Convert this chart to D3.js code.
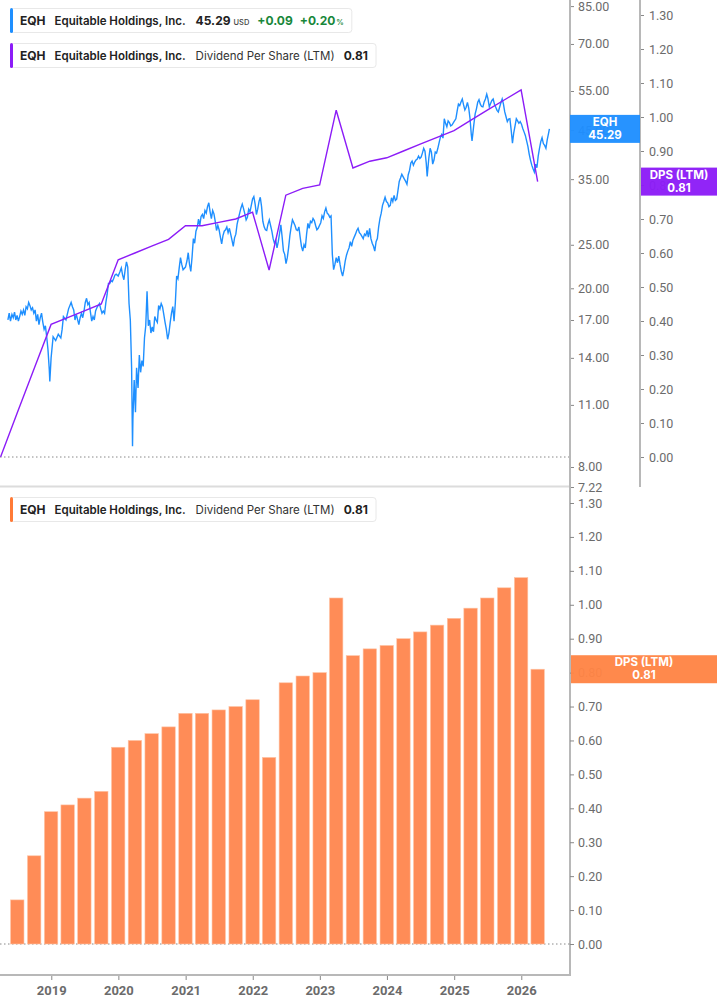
<!DOCTYPE html>
<html>
<head>
<meta charset="utf-8">
<script src="https://cdn.jsdelivr.net/npm/d3@7"></script>
<style>
  body { margin: 0; background: #fff; }
  svg { display: block; font-family: Inter, "Noto Sans", sans-serif; }
</style>
</head>
<body>
<div id="chart"></div>
<script>
// price series (close)
const priceSeries = [
  ["2018-05-10",17.0],["2018-05-17",17.6],["2018-05-24",16.9],["2018-06-01",17.5],["2018-06-08",17.2],["2018-06-15",17.7],
  ["2018-06-22",17.0],["2018-06-29",17.4],["2018-07-06",16.9],["2018-07-13",17.3],["2018-07-20",17.8],["2018-07-27",17.5],
  ["2018-08-03",17.9],["2018-08-10",17.4],["2018-08-17",18.2],["2018-08-24",18.0],["2018-08-31",18.6],["2018-09-07",18.3],
  ["2018-09-14",17.9],["2018-09-21",18.1],["2018-09-28",17.6],["2018-10-05",17.9],["2018-10-12",16.9],["2018-10-19",17.5],
  ["2018-10-26",16.6],["2018-11-02",17.2],["2018-11-09",17.6],["2018-11-16",16.8],["2018-11-23",16.2],["2018-11-30",16.5],
  ["2018-12-07",15.6],["2018-12-14",14.6],["2018-12-21",13.2],["2018-12-24",12.4],["2018-12-31",14.0],
  ["2019-01-11",15.6],["2019-01-25",15.3],["2019-02-08",15.8],["2019-02-22",15.5],["2019-03-01",16.2],["2019-03-08",17.3],
  ["2019-03-22",17.0],["2019-04-05",18.0],["2019-04-19",18.6],["2019-04-26",18.2],["2019-05-03",17.9],["2019-05-10",17.0],
  ["2019-05-17",17.5],["2019-05-31",16.6],["2019-06-07",17.2],["2019-06-14",17.6],["2019-06-21",17.2],["2019-06-28",17.8],
  ["2019-07-05",18.6],["2019-07-12",19.0],["2019-07-19",18.4],["2019-07-26",18.6],["2019-08-02",17.7],["2019-08-09",16.9],
  ["2019-08-16",17.3],["2019-08-23",17.0],["2019-08-30",17.8],["2019-09-06",18.1],["2019-09-20",18.5],["2019-09-27",18.0],
  ["2019-10-04",17.6],["2019-10-11",17.8],["2019-10-18",17.6],["2019-10-25",18.6],["2019-11-01",19.4],["2019-11-08",20.5],
  ["2019-11-15",20.5],["2019-11-22",20.8],["2019-11-29",20.7],["2019-12-06",21.0],["2019-12-13",21.4],["2019-12-20",21.5],
  ["2019-12-31",21.3],
  ["2020-01-10",21.8],["2020-01-17",22.2],["2020-01-24",21.4],["2020-01-31",20.9],["2020-02-07",22.0],["2020-02-14",22.9],
  ["2020-02-21",22.3],["2020-02-28",18.5],["2020-03-06",17.0],["2020-03-13",13.3],["2020-03-18",8.9],["2020-03-20",10.2],
  ["2020-03-27",12.5],["2020-04-03",10.6],["2020-04-09",13.3],["2020-04-17",12.0],["2020-04-24",14.2],["2020-05-01",13.0],
  ["2020-05-08",13.8],["2020-05-15",13.4],["2020-05-22",15.5],["2020-05-29",16.5],["2020-06-05",19.7],["2020-06-12",16.5],
  ["2020-06-19",17.0],["2020-06-26",15.9],["2020-07-03",16.4],["2020-07-10",16.0],["2020-07-17",17.3],["2020-07-24",17.0],
  ["2020-07-31",16.8],["2020-08-07",18.3],["2020-08-14",18.0],["2020-08-21",18.5],["2020-08-28",18.2],["2020-09-04",17.5],
  ["2020-09-11",16.8],["2020-09-18",16.2],["2020-09-25",15.4],["2020-10-02",15.9],["2020-10-09",16.8],["2020-10-16",17.6],
  ["2020-10-23",18.2],["2020-10-30",16.9],["2020-11-06",18.6],["2020-11-13",21.3],["2020-11-20",21.0],["2020-11-27",22.2],
  ["2020-12-04",23.4],["2020-12-11",22.6],["2020-12-18",22.0],["2020-12-31",22.3],
  ["2021-01-08",23.0],["2021-01-15",24.0],["2021-01-22",22.6],["2021-01-29",21.8],["2021-02-05",23.5],["2021-02-12",25.8],
  ["2021-02-19",25.2],["2021-02-26",26.8],["2021-03-05",27.3],["2021-03-12",28.5],["2021-03-19",27.6],["2021-03-26",28.9],
  ["2021-04-02",29.2],["2021-04-09",28.6],["2021-04-16",29.8],["2021-04-23",29.4],["2021-04-30",30.4],["2021-05-07",31.0],
  ["2021-05-14",29.6],["2021-05-21",28.6],["2021-05-28",29.8],["2021-06-04",29.3],["2021-06-11",28.2],["2021-06-18",26.9],
  ["2021-06-25",27.6],["2021-07-02",27.0],["2021-07-09",26.0],["2021-07-16",25.1],["2021-07-23",26.2],["2021-07-30",26.8],
  ["2021-08-06",27.0],["2021-08-13",27.4],["2021-08-20",26.6],["2021-08-27",27.2],["2021-09-03",26.4],["2021-09-10",25.6],
  ["2021-09-17",24.8],["2021-09-24",25.9],["2021-10-01",26.4],["2021-10-08",27.8],["2021-10-15",28.6],["2021-10-22",29.4],
  ["2021-10-29",30.2],["2021-11-05",30.8],["2021-11-12",30.1],["2021-11-19",29.3],["2021-11-26",28.4],["2021-12-03",28.8],
  ["2021-12-10",30.0],["2021-12-17",29.6],["2021-12-31",31.6],
  ["2022-01-07",32.0],["2022-01-14",30.8],["2022-01-21",29.2],["2022-01-28",30.0],["2022-02-04",31.2],["2022-02-11",31.9],
  ["2022-02-18",30.4],["2022-02-25",28.2],["2022-03-04",27.4],["2022-03-11",27.0],["2022-03-18",26.9],["2022-03-25",27.8],
  ["2022-04-01",28.4],["2022-04-08",27.6],["2022-04-15",26.8],["2022-04-22",25.8],["2022-04-29",25.2],["2022-05-06",25.6],
  ["2022-05-13",24.6],["2022-05-20",25.4],["2022-05-27",26.5],["2022-06-03",27.7],["2022-06-10",26.0],["2022-06-17",24.2],
  ["2022-06-24",23.8],["2022-07-01",22.7],["2022-07-08",23.4],["2022-07-15",24.6],["2022-07-22",26.2],["2022-07-29",27.4],
  ["2022-08-05",28.4],["2022-08-12",28.0],["2022-08-19",27.6],["2022-08-26",27.0],["2022-09-02",26.9],["2022-09-09",27.4],
  ["2022-09-16",26.0],["2022-09-23",24.8],["2022-09-30",24.2],["2022-10-07",25.0],["2022-10-14",24.6],["2022-10-21",26.4],
  ["2022-10-28",27.9],["2022-11-04",27.2],["2022-11-11",28.2],["2022-11-18",28.0],["2022-11-25",28.6],["2022-12-02",28.3],
  ["2022-12-09",27.6],["2022-12-16",27.0],["2022-12-23",27.2],["2022-12-30",27.6],
  ["2023-01-06",28.0],["2023-01-13",29.0],["2023-01-20",28.6],["2023-01-27",29.6],["2023-02-03",30.2],["2023-02-10",29.4],
  ["2023-02-17",29.2],["2023-02-24",28.8],["2023-03-03",29.0],["2023-03-10",23.8],["2023-03-17",22.0],["2023-03-24",22.6],
  ["2023-03-31",23.4],["2023-04-07",22.8],["2023-04-14",23.6],["2023-04-21",22.6],["2023-04-28",21.8],["2023-05-05",21.3],
  ["2023-05-12",22.0],["2023-05-19",23.0],["2023-05-26",23.7],["2023-06-02",24.2],["2023-06-09",24.6],["2023-06-16",25.4],
  ["2023-06-23",24.8],["2023-06-30",25.6],["2023-07-07",26.0],["2023-07-14",26.4],["2023-07-21",26.9],["2023-07-28",27.2],
  ["2023-08-04",26.6],["2023-08-11",26.4],["2023-08-18",26.1],["2023-08-25",25.8],["2023-09-01",26.4],["2023-09-08",26.2],
  ["2023-09-15",26.9],["2023-09-22",26.0],["2023-09-29",27.2],["2023-10-06",25.8],["2023-10-13",25.2],["2023-10-20",24.8],
  ["2023-10-27",24.2],["2023-11-03",25.4],["2023-11-10",25.8],["2023-11-17",27.4],["2023-11-24",28.6],["2023-12-01",29.4],
  ["2023-12-08",30.6],["2023-12-15",31.2],["2023-12-22",31.9],["2023-12-29",31.2],
  ["2024-01-05",31.0],["2024-01-12",30.4],["2024-01-19",30.6],["2024-01-26",31.8],["2024-02-02",31.2],["2024-02-09",32.2],
  ["2024-02-16",31.4],["2024-02-23",31.6],["2024-03-01",33.0],["2024-03-08",34.6],["2024-03-15",35.2],["2024-03-22",35.9],
  ["2024-03-28",35.5],["2024-04-05",35.0],["2024-04-12",34.6],["2024-04-19",34.1],["2024-04-26",35.8],["2024-05-03",36.6],
  ["2024-05-10",38.0],["2024-05-17",38.4],["2024-05-24",37.6],["2024-05-31",38.2],["2024-06-07",38.6],["2024-06-14",38.8],
  ["2024-06-21",39.4],["2024-06-28",38.9],["2024-07-05",39.2],["2024-07-12",40.0],["2024-07-19",41.0],["2024-07-26",40.4],
  ["2024-08-02",38.0],["2024-08-07",35.5],["2024-08-16",39.0],["2024-08-23",41.0],["2024-08-30",40.2],["2024-09-06",37.8],
  ["2024-09-13",38.6],["2024-09-20",40.2],["2024-09-27",40.0],["2024-10-04",41.0],["2024-10-11",42.2],["2024-10-18",43.4],
  ["2024-10-25",44.0],["2024-11-01",43.2],["2024-11-08",47.7],["2024-11-15",46.6],["2024-11-22",45.8],["2024-11-29",47.2],
  ["2024-12-06",46.8],["2024-12-13",46.0],["2024-12-20",46.2],["2024-12-31",47.0],
  ["2025-01-10",47.7],["2025-01-17",49.6],["2025-01-24",51.4],["2025-01-31",51.0],["2025-02-07",52.0],["2025-02-14",52.8],
  ["2025-02-21",51.2],["2025-02-28",49.9],["2025-03-07",50.6],["2025-03-14",51.9],["2025-03-21",50.4],["2025-03-28",47.8],
  ["2025-04-04",44.0],["2025-04-08",42.6],["2025-04-17",46.0],["2025-04-25",48.9],["2025-05-02",50.2],["2025-05-09",51.9],
  ["2025-05-16",52.6],["2025-05-23",51.4],["2025-05-30",50.8],["2025-06-06",50.7],["2025-06-13",52.0],["2025-06-20",52.8],
  ["2025-06-27",54.1],["2025-07-03",53.0],["2025-07-11",50.7],["2025-07-18",51.6],["2025-07-25",52.4],["2025-08-01",52.8],
  ["2025-08-08",51.4],["2025-08-15",50.6],["2025-08-22",49.8],["2025-08-29",49.4],["2025-09-05",50.6],["2025-09-12",51.8],
  ["2025-09-19",52.8],["2025-09-26",51.4],["2025-10-03",49.4],["2025-10-10",48.2],["2025-10-17",47.0],["2025-10-24",47.6],
  ["2025-10-31",47.7],["2025-11-07",45.0],["2025-11-14",42.1],["2025-11-21",44.4],["2025-11-28",46.0],["2025-12-05",47.7],
  ["2025-12-12",47.2],["2025-12-19",46.6],["2025-12-26",47.0],
  ["2026-01-02",46.4],["2026-01-09",45.4],["2026-01-16",44.6],["2026-01-23",43.8],["2026-01-30",42.6],["2026-02-06",41.4],
  ["2026-02-13",39.8],["2026-02-20",38.6],["2026-02-27",37.6],["2026-03-06",36.9],["2026-03-13",36.3],["2026-03-20",37.8],
  ["2026-03-27",37.1],["2026-04-03",39.4],["2026-04-10",41.0],["2026-04-17",42.4],["2026-04-24",43.3],["2026-05-01",42.0],
  ["2026-05-08",41.6],["2026-05-15",41.0],["2026-05-22",42.8],["2026-05-29",44.2],["2026-06-03",45.29]
];

// dividend per share (LTM), quarter ends
const dpsDates = ["2018-03-31","2018-06-30","2018-09-30","2018-12-31","2019-03-31","2019-06-30","2019-09-30","2019-12-31",
  "2020-03-31","2020-06-30","2020-09-30","2020-12-31","2021-03-31","2021-06-30","2021-09-30","2021-12-31",
  "2022-03-31","2022-06-30","2022-09-30","2022-12-31","2023-03-31","2023-06-30","2023-09-30","2023-12-31",
  "2024-03-31","2024-06-30","2024-09-30","2024-12-31","2025-03-31","2025-06-30","2025-09-30","2025-12-31","2026-03-31"];
const dpsValues = [0, 0.13, 0.26, 0.39, 0.41, 0.43, 0.45, 0.58, 0.60, 0.62, 0.64, 0.68, 0.68, 0.69, 0.70, 0.72,
  0.55, 0.77, 0.79, 0.80, 1.02, 0.85, 0.87, 0.88, 0.90, 0.92, 0.94, 0.96, 0.99, 1.02, 1.05, 1.08, 0.81];

const priceTicks = [7.22, 8, 11, 14, 17, 20, 25, 35, 45, 55, 70, 85];
const dpsTicks = [0, 0.1, 0.2, 0.3, 0.4, 0.5, 0.6, 0.7, 0.8, 0.9, 1.0, 1.1, 1.2, 1.3];
const yearTicks = [2019, 2020, 2021, 2022, 2023, 2024, 2025, 2026];

const lastPrice = 45.29, lastDps = 0.81;
const change = "+0.09", changePct = "+0.20";

const W = 717, H = 1005;
const plotRight = 570;
const parse = d3.timeParse("%Y-%m-%d");

const price = priceSeries.map(d => ({date: parse(d[0]), value: d[1]}));
const dps = dpsDates.map((d, i) => ({date: parse(d), value: dpsValues[i]}));

const svg = d3.select("#chart").append("svg")
    .attr("width", W).attr("height", H);

// scales
const x = d3.scaleTime()
    .domain([new Date(2018, 2, 28), new Date(2026, 8, 23)])
    .range([0, plotRight]);
const yPrice = d3.scaleLog().domain([7.22, 87.7]).range([487, 0]);
const yDpsTop = d3.scaleLinear().domain([0, 1.3]).range([457, 15]);
const yDpsBot = d3.scaleLinear().domain([0, 1.3]).range([944, 503]);

const grey = "#6b6b6b";
const axisGrey = "#b8b8b8";

// ---------- top panel ----------
const topPanel = svg.append("g");
topPanel.append("defs").append("clipPath").attr("id", "clipTop")
  .append("rect").attr("x", 0).attr("y", 0).attr("width", plotRight).attr("height", 487);

// zero line of dps
topPanel.append("line")
    .attr("x1", 0).attr("x2", plotRight)
    .attr("y1", yDpsTop(0)).attr("y2", yDpsTop(0))
    .attr("stroke", "#888").attr("stroke-dasharray", "1.5,2.5");

// divider
topPanel.append("line")
    .attr("x1", 0).attr("x2", plotRight).attr("y1", 486.5).attr("y2", 486.5)
    .attr("stroke", "#dcdcdc").attr("stroke-width", 2);

const clipped = topPanel.append("g").attr("clip-path", "url(#clipTop)");
clipped.append("path").datum(price)
    .attr("fill", "none").attr("stroke", "#1e8fff").attr("stroke-width", 1.4)
    .attr("d", d3.line().x(d => x(d.date)).y(d => yPrice(d.value)));
clipped.append("path").datum(dps)
    .attr("fill", "none").attr("stroke", "#8c1cf7").attr("stroke-width", 1.4)
    .attr("d", d3.line().x(d => x(d.date)).y(d => yDpsTop(d.value)));

// price axis
const pAxis = topPanel.append("g").attr("transform", `translate(${plotRight},0)`)
    .call(d3.axisRight(yPrice).tickValues(priceTicks).tickFormat(d3.format(".2f")).tickSize(4).tickPadding(4));
pAxis.select(".domain").remove();
topPanel.append("line").attr("x1", plotRight).attr("x2", plotRight).attr("y1", 0).attr("y2", 976)
    .attr("stroke", axisGrey).attr("stroke-width", 2);

// dps axis (top)
const dAxis = topPanel.append("g").attr("transform", "translate(640,0)")
    .call(d3.axisRight(yDpsTop).tickValues(dpsTicks).tickFormat(d3.format(".2f")).tickSize(4).tickPadding(5));
dAxis.select(".domain").remove();
topPanel.append("line").attr("x1", 640).attr("x2", 640).attr("y1", 0).attr("y2", 487)
    .attr("stroke", axisGrey).attr("stroke-width", 2);

// ---------- bottom panel ----------
const botPanel = svg.append("g");
botPanel.append("line")
    .attr("x1", 0).attr("x2", plotRight)
    .attr("y1", yDpsBot(0)).attr("y2", yDpsBot(0))
    .attr("stroke", "#888").attr("stroke-dasharray", "1.5,2.5");

const barW = 13.4;
botPanel.selectAll("rect.bar").data(dps).enter().append("rect")
    .attr("class", "bar")
    .attr("x", d => x(d.date) - barW / 2)
    .attr("width", barW)
    .attr("y", d => yDpsBot(d.value))
    .attr("height", d => yDpsBot(0) - yDpsBot(d.value))
    .attr("fill", "#ff8c57")
    .attr("stroke", "#ffc3a4").attr("stroke-width", 0.6);

const bAxis = botPanel.append("g").attr("transform", `translate(${plotRight},0)`)
    .call(d3.axisRight(yDpsBot).tickValues(dpsTicks).tickFormat(d3.format(".2f")).tickSize(4).tickPadding(4));
bAxis.select(".domain").remove();

// x axis
const xAxis = botPanel.append("g").attr("transform", "translate(0,975)")
    .call(d3.axisBottom(x).tickValues(yearTicks.map(y => new Date(y, 0, 1)))
      .tickFormat(d3.timeFormat("%Y")).tickSize(5).tickPadding(6));
xAxis.select(".domain").remove();
botPanel.append("line").attr("x1", 0).attr("x2", plotRight + 1).attr("y1", 975).attr("y2", 975)
    .attr("stroke", axisGrey).attr("stroke-width", 2);

svg.selectAll(".tick line").attr("stroke", "#888");
svg.selectAll(".tick text").attr("fill", grey).attr("font-family", "Roboto, sans-serif").attr("font-size", 12.5);
xAxis.selectAll("text").attr("font-weight", 700).attr("font-size", 13);

// ---------- value labels on axes ----------
function tag(x0, w, yc, color, l1, l2) {
  const g = svg.append("g");
  g.append("rect").attr("x", x0).attr("y", yc - 14).attr("width", w).attr("height", 28)
      .attr("fill", color).attr("fill-opacity", 0.96);
  g.append("text").attr("x", x0 + w / 2).attr("y", yc - 3).attr("text-anchor", "middle")
      .attr("fill", "#fff").attr("font-size", 11.5).attr("font-weight", 700).text(l1);
  g.append("text").attr("x", x0 + w / 2).attr("y", yc + 10).attr("text-anchor", "middle")
      .attr("fill", "#fff").attr("font-size", 11.5).attr("font-weight", 700).text(l2);
}
tag(570, 70, yPrice(lastPrice), "#1e8fff", "EQH", lastPrice.toFixed(2));
tag(641, 76, yDpsTop(lastDps), "#8c1cf7", "DPS (LTM)", lastDps.toFixed(2));
tag(571, 146, yDpsBot(lastDps), "#ff8445", "DPS (LTM)", lastDps.toFixed(2));

// ---------- legends ----------
// parts are laid out one after another: [text, gapBefore, size, weight, colour]
function legend(y0, color, parts) {
  const g = svg.append("g");
  const box = g.append("rect").attr("x", 10.5).attr("y", y0 + 0.5).attr("height", 24)
      .attr("rx", 3).attr("fill", "#fff").attr("stroke", "#e8e8e8");
  g.append("rect").attr("x", 10).attr("y", y0).attr("width", 3).attr("height", 25)
      .attr("rx", 1.5).attr("fill", color);
  let cx = 20;
  parts.forEach(p => {
    cx += p[1];
    const t = g.append("text").attr("x", cx).attr("y", y0 + 17)
        .attr("font-size", p[2]).attr("font-weight", p[3]).attr("fill", p[4]).text(p[0]);
    cx += t.node().getComputedTextLength();
  });
  box.attr("width", cx + 8 - 10.5);
}

const green = "#18873a";
legend(8, "#1e8fff", [
  ["EQH", 0, 12, 700, "#222"],
  ["Equitable Holdings, Inc.", 9, 11.5, 600, "#222"],
  [lastPrice.toFixed(2), 10, 12, 700, "#222"],
  ["USD", 3, 7.5, 500, "#444"],
  [change, 8, 12, 700, green],
  [changePct, 7, 12, 700, green],
  ["%", 1, 7.5, 600, green]
]);
[[43, "#8c1cf7"], [497, "#ff7a36"]].forEach(([y0, c]) => legend(y0, c, [
  ["EQH", 0, 12, 700, "#222"],
  ["Equitable Holdings, Inc.", 9, 11.5, 600, "#222"],
  ["Dividend Per Share (LTM)", 10, 11.5, 400, "#333"],
  [lastDps.toFixed(2), 9, 12, 700, "#222"]
]));
</script>
</body>
</html>
